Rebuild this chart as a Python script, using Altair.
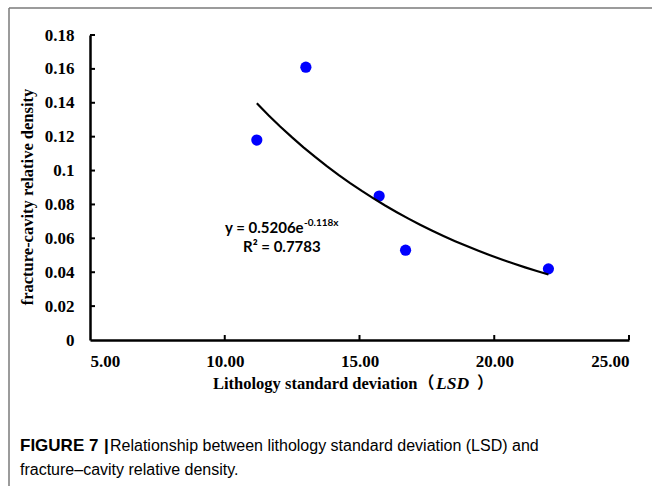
import altair as alt
import pandas as pd

# ---- data ----
lsd = [11.19, 13.01, 15.73, 16.71, 22.01]
density = [0.118, 0.161, 0.085, 0.053, 0.042]
x_ticks = [5, 10, 15, 20, 25]
y_ticks = [0, 0.02, 0.04, 0.06, 0.08, 0.10, 0.12, 0.14, 0.16, 0.18]

x_title_parts = ["Lithology standard deviation", "（", "LSD", "）"]
y_title = "fracture-cavity relative density"
eq_main = "y = 0.5206e"
eq_sup = "-0.118x"
r2_text = "R² = 0.7783"
caption_bold = "FIGURE 7"
caption_bar = "|"
caption_line1 = "Relationship between lithology standard deviation (LSD) and"
caption_line2 = "fracture–cavity relative density."

W, H = 539, 305
PL, PT = 90, 35

pts = pd.DataFrame({"lsd": lsd, "density": density})
one = pd.DataFrame({"a": [0]})

xs = alt.Scale(domain=[5, 25], nice=False, zero=False)
ys = alt.Scale(domain=[0, 0.18], nice=False)

serif = "Liberation Serif"

x_axis = alt.Axis(values=x_ticks, format=".2f", title=None, ticks=False, grid=False,
                  domainColor="black", domainWidth=2.5, labelFont=serif, labelFontWeight="bold",
                  labelFontSize=17, labelColor="black", labelPadding=13)
y_axis = alt.Axis(values=y_ticks, format=".2~f", title=None, ticks=False, grid=False,
                  domainColor="black", domainWidth=2.5, labelFont=serif, labelFontWeight="bold",
                  labelFontSize=17, labelColor="black", labelPadding=16)

points = alt.Chart(pts).mark_circle(size=125, color="#0000FF", opacity=1).encode(
    x=alt.X("lsd:Q", scale=xs, axis=x_axis),
    y=alt.Y("density:Q", scale=ys, axis=y_axis),
)

# exponential trend (least squares on ln y, as a spreadsheet trendline does)
trend = (
    alt.Chart(pts)
    .transform_calculate(ly="log(datum.density)")
    .transform_regression("lsd", "ly", method="poly", order=1)
    .transform_calculate(density="exp(datum.ly)")
    .mark_line(color="black", strokeWidth=2.2)
    .encode(
        x=alt.X("lsd:Q", scale=xs, axis=x_axis),
        y=alt.Y("density:Q", scale=ys, axis=y_axis),
    )
)

ytick_df = pd.DataFrame({"lsd": [5] * (len(y_ticks) - 1), "density": y_ticks[1:]})
ytk = alt.Chart(ytick_df).mark_rule(color="black", strokeWidth=2).encode(
    y=alt.Y("density:Q", scale=ys, axis=y_axis), x=alt.value(0), x2=alt.value(5)
)
xtick_df = pd.DataFrame({"lsd": x_ticks[1:], "density": [0] * (len(x_ticks) - 1)})
xtk = alt.Chart(xtick_df).mark_rule(color="black", strokeWidth=2).encode(
    x=alt.X("lsd:Q", scale=xs, axis=x_axis), y=alt.value(H), y2=alt.value(H - 5)
)


def txt(s, x, y, font, size, weight="normal", style="normal", align="left", angle=0, color="black"):
    kw = dict(text=s, font=font, fontSize=size, fontWeight=weight, fontStyle=style,
              align=align, baseline="middle", color=color)
    if angle:
        kw["angle"] = angle
    return alt.Chart(one).mark_text(**kw).encode(x=alt.value(x), y=alt.value(y))


sans_eq = "Lato"
cap_font = "Liberation Sans"
cjk = "Noto Sans CJK SC"

texts = [
    txt(eq_main, 225 - PL, 228 - PT, sans_eq, 15, weight="bold"),
    txt(eq_sup, 304 - PL, 223 - PT, sans_eq, 10, weight="bold"),
    txt(r2_text, 243 - PL, 247 - PT, sans_eq, 15, weight="bold"),
    txt(y_title, 28 - PL, 197 - PT, serif, 16.5, weight="bold", align="center", angle=270),
    txt(x_title_parts[0], 213 - PL, 384 - PT, serif, 16.5, weight="bold"),
    txt(x_title_parts[1], 418 - PL, 384 - PT, cjk, 16.5, weight="bold"),
    txt(x_title_parts[2], 436 - PL, 384 - PT, serif, 17.5, weight="bold", style="italic"),
    txt(x_title_parts[3], 477 - PL, 384 - PT, cjk, 16.5, weight="bold"),
    txt(caption_bold, 20 - PL, 446 - PT, "Liberation Sans", 17, weight="bold"),
    txt(caption_bar, 104 - PL, 446 - PT, "Liberation Sans", 17, weight="bold"),
    txt(caption_line1, 110 - PL, 446 - PT, cap_font, 16),
    txt(caption_line2, 20 - PL, 470 - PT, cap_font, 16),
]

frame_left = alt.Chart(one).mark_rule(color="#7a7a7a", strokeWidth=1.5).encode(
    x=alt.value(9 - PL), y=alt.value(8 - PT), y2=alt.value(500 - PT)
)
frame_top = alt.Chart(one).mark_rule(color="#7a7a7a", strokeWidth=1.5).encode(
    x=alt.value(9 - PL), x2=alt.value(660 - PL), y=alt.value(8 - PT)
)

chart = alt.layer(points, trend, ytk, xtk, frame_left, frame_top, *texts).properties(
    width=W, height=H,
    autosize=alt.AutoSizeParams(type="none"),
    padding={"left": PL, "top": PT, "right": 652 - PL - W, "bottom": 486 - PT - H},
    background="white",
).configure_view(stroke=None)

chart.save("out.html", embed_options={"renderer": "svg", "actions": False})
